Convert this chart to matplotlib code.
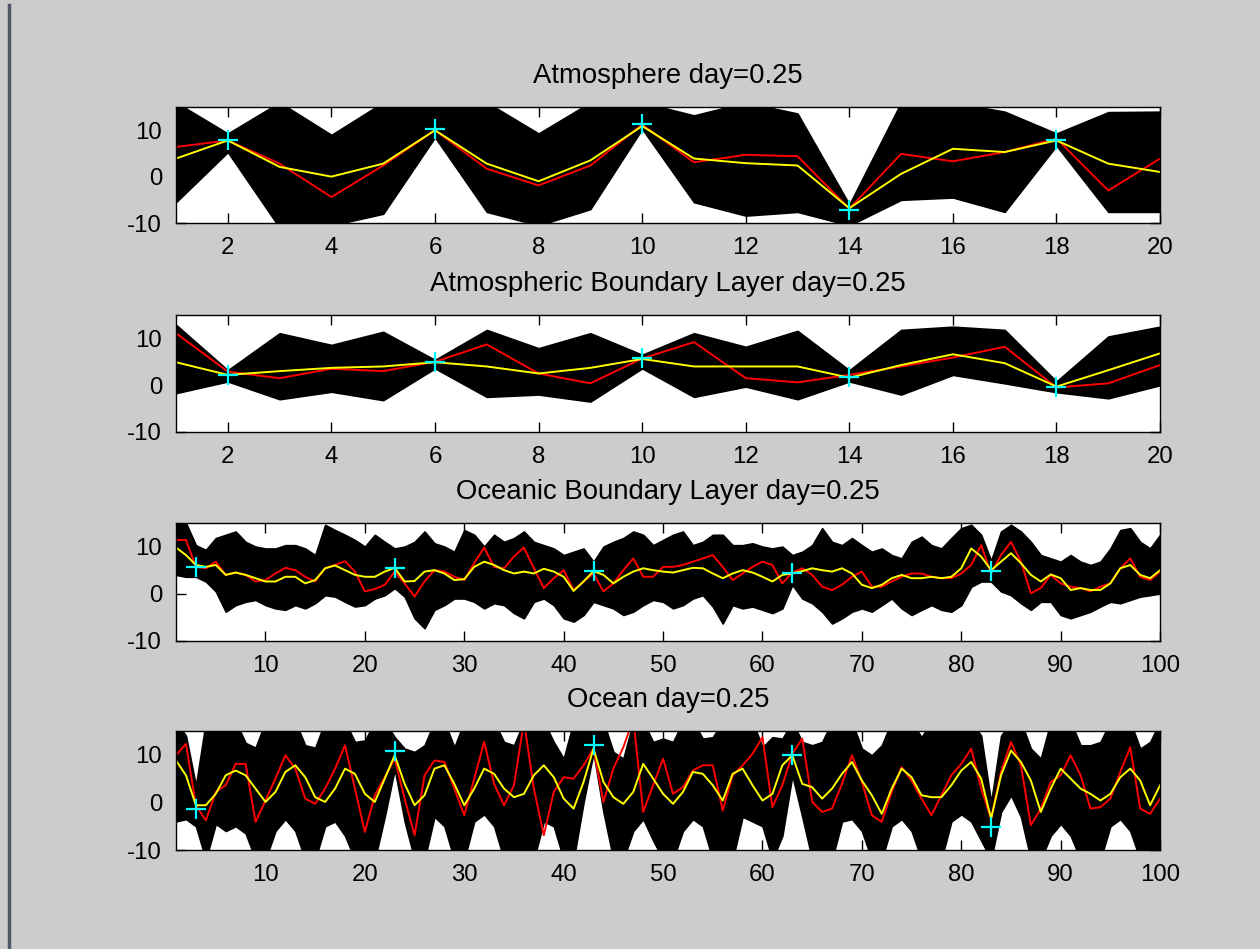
import matplotlib
matplotlib.use("Agg")
import matplotlib.pyplot as plt
from matplotlib.lines import Line2D

plt.rcParams["font.family"] = ["Liberation Sans", "DejaVu Sans"]
plt.rcParams["axes.unicode_minus"] = False

# --- Atmosphere (20 variables) ---
atm_x = list(range(1, 21))
atm_truth = [6.4, 7.8, 2.8, -4.4, 2.4, 10.0, 1.7, -1.9, 2.4, 11.2,
             3.1, 4.7, 4.4, -6.9, 4.9, 3.3, 5.3, 8.2, -3.0, 3.9]
atm_mean = [3.9, 7.8, 2.1, 0.0, 2.8, 10.0, 2.8, -1.0, 3.5, 10.9,
            3.9, 2.9, 2.4, -6.8, 0.6, 6.0, 5.3, 7.8, 2.8, 1.0]
atm_ens_hi = [16, 9.3, 16, 9.0, 16, 16, 16, 9.3, 16, 16,
              13.2, 16, 13.6, -6.0, 16, 16, 14, 9.3, 13.9, 14]
atm_ens_lo = [-5.5, 5.3, -11, -10.5, -8, 8.5, -7.6, -10.5, -7, 10.3,
              -5.5, -8.4, -7.6, -10.5, -5, -4.5, -7.6, 6.7, -7.6, -7.6]
atm_obs_x = [2, 6, 10, 14, 18]
atm_obs = [7.8, 10.2, 11.3, -7.3, 7.8]

# --- Atmospheric boundary layer (20 variables) ---
abl_x = list(range(1, 21))
abl_truth = [11.1, 2.9, 1.5, 3.5, 3.0, 5.0, 8.7, 2.5, 0.4, 5.7,
             9.2, 1.5, 0.6, 2.2, 4.0, 5.9, 8.2, -0.5, 0.4, 4.3]
abl_mean = [4.9, 2.2, 3.0, 3.7, 4.0, 4.9, 4.0, 2.5, 3.7, 5.6,
            4.0, 4.0, 4.0, 1.6, 4.3, 6.6, 4.7, -0.3, 3.2, 6.8]
abl_ens_hi = [12.9, 3.2, 11.1, 8.6, 11.4, 5.4, 11.8, 7.9, 11.1, 6.5,
              11.1, 8.2, 11.6, 3.2, 11.8, 12.5, 11.8, 0.8, 10.4, 12.5]
abl_ens_lo = [-1.7, 0.8, -3.0, -1.4, -3.2, 3.6, -2.5, -2.0, -3.5, 3.6,
              -2.5, -0.3, -3.0, 0.8, -2.0, 2.2, 0.4, -1.5, -2.8, 0.0]
abl_obs_x = [2, 6, 10, 14, 18]
abl_obs = [2.2, 4.9, 5.9, 1.8, -0.3]

# --- Oceanic boundary layer (100 variables) ---
obl_x = list(range(1, 101))
obl_truth = [11.4, 11.4, 5.7, 5.4, 6.8, 4.0, 4.5, 4.0, 2.6, 2.9,
             4.3, 5.5, 5.0, 3.6, 2.6, 5.4, 6.1, 6.9, 4.7, 0.5,
             1.0, 1.9, 4.7, 2.2, -0.6, 2.6, 5.0, 4.7, 3.6, 2.9,
             6.5, 9.8, 5.7, 5.4, 7.9, 9.8, 5.4, 1.2, 3.3, 5.0,
             0.8, 2.6, 4.3, 0.5, 2.2, 5.0, 7.5, 3.6, 3.6, 5.7,
             5.7, 6.1, 6.8, 7.5, 8.2, 5.7, 2.9, 4.3, 5.7, 6.8,
             6.1, 2.2, 4.5, 5.4, 4.0, 1.5, 0.8, 1.9, 3.6, 4.7,
             1.5, 1.5, 2.6, 3.6, 4.3, 4.3, 3.6, 3.3, 3.3, 4.3,
             6.1, 10.3, 4.3, 8.2, 11.0, 6.8, 0.1, 1.2, 4.0, 2.2,
             1.5, 1.2, 0.5, 1.5, 2.2, 5.4, 7.5, 3.6, 2.9, 4.7]
obl_mean = [9.8, 8.2, 6.1, 5.7, 6.1, 4.0, 4.5, 4.0, 3.3, 2.6,
            2.6, 3.6, 3.6, 2.2, 2.9, 5.4, 6.0, 5.0, 4.0, 3.6,
            3.6, 4.7, 5.5, 2.6, 2.7, 4.7, 5.0, 4.3, 2.9, 3.1,
            5.7, 6.8, 6.1, 5.0, 4.3, 4.7, 4.3, 5.3, 4.7, 3.6,
            0.6, 2.6, 4.8, 4.0, 2.2, 3.6, 4.7, 5.4, 5.0, 4.7,
            4.5, 5.0, 5.5, 5.4, 4.3, 3.3, 4.3, 5.0, 4.5, 3.6,
            2.6, 4.0, 4.3, 4.8, 5.4, 5.0, 4.7, 5.4, 4.3, 1.9,
            1.2, 1.9, 3.3, 4.0, 3.3, 3.3, 3.6, 3.3, 3.6, 5.4,
            9.6, 7.9, 5.0, 6.8, 8.6, 6.5, 4.0, 2.6, 4.1, 3.3,
            0.8, 1.2, 0.8, 0.8, 2.2, 5.4, 6.1, 4.0, 3.3, 5.0]
obl_ens_hi = [16.0, 15.0, 10.3, 9.3, 11.8, 12.5, 13.2, 11.0, 10.0, 9.6,
              9.6, 10.3, 10.3, 9.6, 8.2, 14.6, 13.5, 12.5, 11.4, 10.0,
              12.5, 11.0, 9.6, 10.0, 11.0, 13.2, 10.7, 10.0, 8.9, 13.5,
              12.5, 10.0, 12.5, 11.0, 11.8, 13.2, 11.0, 10.3, 9.6, 8.2,
              8.9, 9.6, 6.8, 10.0, 11.0, 11.8, 13.2, 12.5, 10.3, 11.4,
              12.5, 13.2, 10.3, 11.0, 12.5, 12.5, 10.3, 10.3, 10.7, 10.0,
              9.6, 10.0, 8.2, 8.9, 10.3, 13.9, 11.0, 10.3, 11.8, 10.3,
              8.9, 9.6, 8.2, 7.5, 11.0, 12.1, 10.3, 9.6, 11.8, 13.9,
              14.6, 12.5, 7.0, 13.2, 14.6, 13.2, 11.0, 8.2, 7.5, 6.8,
              8.2, 6.8, 6.1, 6.8, 9.6, 13.5, 13.9, 11.0, 9.6, 12.5]
obl_ens_lo = [4.0, 3.6, 3.6, 2.6, 0.5, -3.8, -2.4, -1.7, -1.3, -2.4,
              -3.1, -3.4, -2.4, -3.1, -2.0, -0.3, -0.6, -1.7, -2.7, -2.4,
              -1.0, -0.3, 1.2, -0.6, -5.2, -7.3, -3.4, -2.4, -1.0, -1.0,
              -1.7, -3.1, -2.0, -2.4, -4.1, -5.2, -1.7, -1.0, -2.4, -5.2,
              -5.9, -4.5, -1.7, -2.4, -3.1, -4.5, -3.8, -2.4, -1.3, -1.7,
              -3.1, -2.4, -1.0, -0.3, -2.7, -6.3, -2.4, -3.1, -2.7, -3.4,
              -4.1, -3.1, 1.9, -1.0, -2.0, -3.8, -6.3, -5.2, -3.8, -3.1,
              -3.8, -2.4, -1.0, -3.1, -4.5, -3.4, -2.4, -3.4, -3.8, -2.4,
              1.5, 2.6, 2.6, 0.5, -0.3, -2.0, -3.4, -1.7, -1.7, -4.5,
              -5.2, -4.5, -3.8, -2.7, -1.7, -2.0, -1.3, -0.6, -0.3, 0.1]
obl_obs_x = [3, 23, 43, 63, 83]
obl_obs = [5.7, 5.4, 4.8, 4.5, 4.8]

# --- Ocean (100 variables) ---
ocn_x = list(range(1, 101))
ocn_truth = [9.9, 12.3, -0.6, -3.8, 2.2, 3.6, 8.1, 8.1, -4.1, 0.4,
             5.0, 9.9, 7.1, 0.8, -0.3, 2.9, 7.1, 12.0, 2.9, -6.2,
             1.5, 5.3, 9.2, 0.8, -6.9, 5.7, 8.8, 8.5, 2.9, -2.7,
             5.0, 12.7, 3.9, -0.6, 3.6, 17.0, 2.9, -6.9, 2.2, 5.3,
             5.0, 7.8, 11.3, 0.1, 7.1, 11.6, 17.5, -2.0, 3.6, 9.2,
             1.8, 3.2, 6.7, 7.8, 7.8, -1.7, 5.7, 7.8, 10.2, 13.7,
             -1.0, 3.6, 10.2, 13.4, 0.1, -2.0, -1.3, 3.9, 9.9, 4.3,
             -2.7, -4.1, 2.2, 7.4, 4.6, 0.8, -2.7, 1.5, 5.7, 8.1,
             11.3, 2.9, -3.4, 6.4, 12.7, 7.8, -4.8, -1.3, 4.3, 5.7,
             9.9, 5.7, -1.3, -1.0, 0.8, 6.4, 11.6, -1.3, -2.4, 0.8]
ocn_mean = [8.8, 5.7, -0.6, -0.6, 1.8, 5.7, 6.7, 5.7, 2.9, 0.1,
            2.2, 6.4, 7.8, 5.3, 1.1, 0.1, 2.9, 7.1, 6.0, 1.8,
            0.1, 5.0, 9.9, 3.9, -0.6, 1.5, 7.1, 7.8, 3.9, -0.6,
            2.9, 7.1, 6.0, 2.9, 1.1, 1.8, 5.7, 7.8, 5.3, 0.8,
            -1.3, 4.3, 11.3, 4.3, 1.1, -0.3, 2.2, 8.1, 5.0, 1.8,
            -0.3, 2.2, 6.4, 6.0, 3.6, 0.4, 6.0, 7.1, 3.6, 0.4,
            1.8, 7.8, 9.9, 3.9, 3.2, 0.8, 2.9, 6.0, 8.5, 4.6,
            1.5, -2.4, 2.9, 7.1, 5.3, 1.5, 1.1, 1.1, 3.6, 6.7,
            8.5, 5.0, -3.4, 5.7, 10.9, 8.5, 4.6, -2.0, 2.9, 7.1,
            5.0, 2.9, 1.8, 0.4, 1.8, 5.3, 7.1, 4.6, -0.6, 3.6]
ocn_ens_hi = [17, 14, 3.5, 17, 17, 17, 17, 12.5, 11.5, 17,
              17, 17, 17, 12.0, 11.5, 17, 17, 17, 12.7, 13.0,
              17, 17, 13.7, 11.3, 10.6, 12.0, 17, 17, 11.6, 17,
              17, 17, 17, 12.7, 12.0, 17, 17, 17, 12.7, 9.2,
              17, 17, 17, 17, 10.6, 9.2, 17, 17, 12.7, 13.4,
              12.7, 17, 17, 13.4, 13.7, 17, 17, 17, 17, 11.6,
              13.7, 13.4, 17, 12.7, 12.0, 12.7, 17, 17, 17, 11.3,
              9.9, 12.0, 17, 17, 17, 13.7, 17, 17, 17, 17,
              17, 14, 0.0, 14, 17, 17, 11.3, 9.2, 17, 17,
              17, 12.0, 12.0, 12.7, 17, 17, 17, 11.3, 12.7, 17]
ocn_ens_lo = [-4, -3.5, -5, -12, -4.5, -6, -5, -6.5, -12, -12,
              -6, -3.5, -6, -12, -12, -5, -4, -7, -12, -12,
              -12, -3, 7.0, -4, -12, -12, -3, -5, -12, -12,
              -4, -2.5, -5, -12, -12, -12, -12, -4, -5, -12,
              -12, 0, 10.5, -2, -12, -12, -6, -3.5, -8, -12,
              -12, -6, -3.5, -5, -12, -12, -12, -3, -4, -5,
              -12, -7, 5.7, -3, -12, -12, -12, -4, -3.5, -6,
              -12, -12, -5, -3.5, -6, -12, -12, -12, -4, -2.5,
              -4, -8, -12, -2, 1.5, -3, -12, -12, -7, -4.5,
              -7, -12, -12, -12, -5, -3.5, -6, -12, -12, -12]
ocn_obs_x = [3, 23, 43, 63, 83]
ocn_obs = [-1.3, 10.7, 12.0, 9.9, -5.2]

panels = [
    ("Atmosphere day=0.25", atm_x, atm_ens_hi, atm_ens_lo, atm_truth, atm_mean,
     atm_obs_x, atm_obs, list(range(2, 21, 2))),
    ("Atmospheric Boundary Layer day=0.25", abl_x, abl_ens_hi, abl_ens_lo,
     abl_truth, abl_mean, abl_obs_x, abl_obs, list(range(2, 21, 2))),
    ("Oceanic Boundary Layer day=0.25", obl_x, obl_ens_hi, obl_ens_lo,
     obl_truth, obl_mean, obl_obs_x, obl_obs, list(range(10, 101, 10))),
    ("Ocean day=0.25", ocn_x, ocn_ens_hi, ocn_ens_lo, ocn_truth, ocn_mean,
     ocn_obs_x, ocn_obs, list(range(10, 101, 10))),
]

# axes boxes in figure fractions (left, bottom, width, height)
boxes = [
    (0.1397, 0.7650, 0.7810, 0.1222),
    (0.1397, 0.5448, 0.7810, 0.1233),
    (0.1397, 0.3246, 0.7810, 0.1243),
    (0.1397, 0.1043, 0.7810, 0.1254),
]

fig = plt.figure(figsize=(12.6, 9.49), dpi=100, facecolor="#cccccc")

for box, (title, x, hi, lo, truth, mean, ox, oy, xt) in zip(boxes, panels):
    ax = fig.add_axes(box)
    ax.set_facecolor("white")
    # ensemble spread
    ax.fill_between(x, lo, hi, color="black", linewidth=1.2, edgecolor="black")
    ax.plot(x, truth, color="red", lw=1.4)
    ax.plot(x, mean, color="yellow", lw=1.4)
    ax.plot(ox, oy, "+", color="cyan", ms=14.5, mew=1.6, linestyle="none")
    ax.set_xlim(x[0], x[-1])
    ax.set_ylim(-10, 15)
    ax.set_xticks(xt)
    ax.set_yticks([-10, 0, 10])
    ax.tick_params(direction="in", length=7, width=1, top=True, right=True,
                   labelsize=17.3, pad=10, colors="black")
    ax.tick_params(axis="y", pad=10)
    for s in ax.spines.values():
        s.set_linewidth(1.0)
    ax.set_title(title, fontsize=19.8, pad=17.5)

fig.add_artist(Line2D([0.0075, 0.0075], [0.0, 0.995], color="#4d5766", lw=2.5,
                      transform=fig.transFigure))

fig.savefig("out.png", dpi=100, facecolor=fig.get_facecolor())
